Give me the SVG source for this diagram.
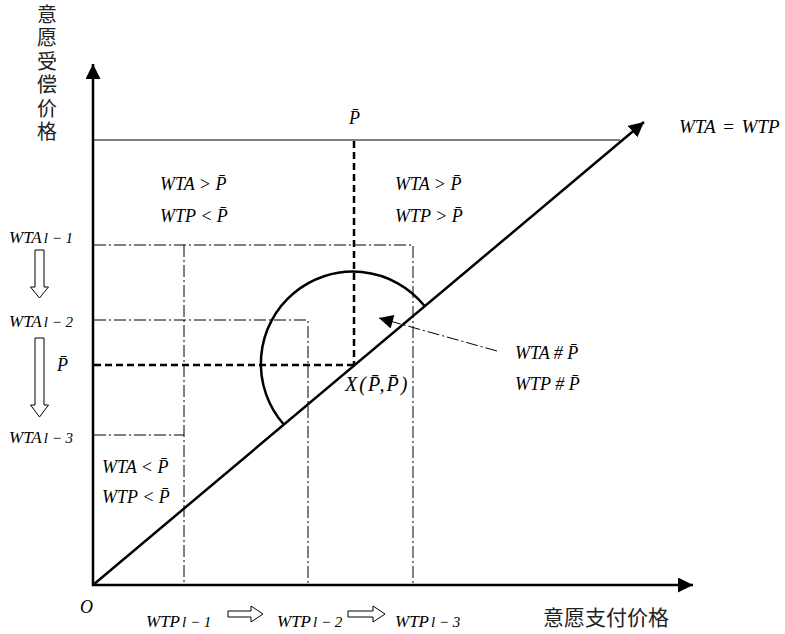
<svg xmlns="http://www.w3.org/2000/svg" width="785" height="634" viewBox="0 0 785 634">
<style>
.t{font-family:"Liberation Serif","Times New Roman",serif;font-style:italic;font-size:18px;fill:#000}
.a{font-size:17px}
.s{font-size:15px}
.cjk{font-family:"Noto Sans CJK SC","Noto Sans CJK JP",sans-serif;font-size:20px;fill:#222}
.axis{stroke:#000;stroke-width:2.5;fill:none}
.thin{stroke:#000;stroke-width:1.2;fill:none}
.bd{stroke:#000;stroke-width:2.5;stroke-dasharray:7 4;fill:none}
.dd{stroke:#000;stroke-width:1;stroke-dasharray:12 3 2 3;fill:none}
.hollow{fill:#fff;stroke:#000;stroke-width:1}
</style>
<defs>
<marker id="ah" viewBox="0 0 10 10" refX="10" refY="5" markerWidth="6" markerHeight="6" markerUnits="strokeWidth" orient="auto">
<path d="M0,0 L10,5 L0,10 Z" fill="#000"/>
</marker>
<marker id="ah2" viewBox="0 0 10 10" refX="10" refY="5" markerWidth="16" markerHeight="14" markerUnits="userSpaceOnUse" orient="auto">
<path d="M0,0 L10,5 L0,10 Z" fill="#000"/>
</marker>
</defs>
<g id="connectors">
<line class="axis" x1="93" y1="586" x2="93" y2="64" marker-end="url(#ah)"/>
<line class="axis" x1="92" y1="585" x2="693" y2="585" marker-end="url(#ah)"/>
<line class="axis" x1="93" y1="585" x2="644" y2="122" marker-end="url(#ah)"/>
<line class="thin" x1="93" y1="140" x2="620" y2="140"/>
<polyline class="bd" points="354,141 354,365"/>
<polyline class="bd" points="94,365 354,365"/>
<polyline class="dd" points="94,245 413,245 413,585"/>
<polyline class="dd" points="184,245 184,585"/>
<polyline class="dd" points="94,320 308,320 308,585"/>
<polyline class="dd" points="94,435 184,435"/>
<path class="axis" stroke-width="2" d="M283.6,424.2 A92,92 0 1 1 424.4,305.8"/>
<line class="dd" x1="497" y1="351" x2="379" y2="318" marker-end="url(#ah2)"/>
<path class="hollow" d="M35,250 H44 V287 H48.5 L39.5,298 L30.5,287 H35 Z"/>
<path class="hollow" d="M35,338 H44 V405 H48.5 L39.5,417 L30.5,405 H35 Z"/>
<path class="hollow" d="M228,611 H251 V606 L263,614 L251,622 V617 H228 Z"/>
<path class="hollow" d="M348,611 H373 V606 L385,614 L373,622 V617 H348 Z"/>
</g>
<g id="y-title"><text class="cjk" x="47" y="4" style="writing-mode:vertical-rl;letter-spacing:3.5px">意愿受偿价格</text></g>
<g id="x-title"><text class="cjk" x="543" y="625" style="font-size:21px">意愿支付价格</text></g>
<g id="pbar-top"><text class="t" x="349" y="124">P̄</text></g>
<g id="wta-wtp"><text class="t" x="679" y="133" style="font-size:19px;word-spacing:2px">WTA = WTP</text></g>
<g id="zone-ul"><text class="t" x="160" y="190">WTA &gt; P̄</text><text class="t" x="160" y="222">WTP &lt; P̄</text></g>
<g id="zone-ur"><text class="t" x="395" y="190">WTA &gt; P̄</text><text class="t" x="395" y="222">WTP &gt; P̄</text></g>
<g id="zone-ll"><text class="t" x="102" y="473">WTA &lt; P̄</text><text class="t" x="102" y="503">WTP &lt; P̄</text></g>
<g id="zone-eq"><text class="t" x="515" y="359">WTA # P̄</text><text class="t" x="515" y="390">WTP # P̄</text></g>
<g id="point-x"><text class="t" x="345" y="391" style="font-size:20px;letter-spacing:2px">X(P̄,P̄)</text></g>
<g id="wta1"><text class="t a" x="9" y="243">WTA<tspan class="s" dx="2">l − 1</tspan></text></g>
<g id="wta2"><text class="t a" x="9" y="327">WTA<tspan class="s" dx="2">l − 2</tspan></text></g>
<g id="pbar-left"><text class="t" x="57" y="371">P̄</text></g>
<g id="wta3"><text class="t a" x="9" y="443">WTA<tspan class="s" dx="2">l − 3</tspan></text></g>
<g id="origin"><text class="t" x="80" y="613">O</text></g>
<g id="wtp1"><text class="t a" x="146" y="627">WTP<tspan class="s" dx="2">l − 1</tspan></text></g>
<g id="wtp2"><text class="t a" x="277" y="627">WTP<tspan class="s" dx="2">l − 2</tspan></text></g>
<g id="wtp3"><text class="t a" x="395" y="627">WTP<tspan class="s" dx="2">l − 3</tspan></text></g>
</svg>
